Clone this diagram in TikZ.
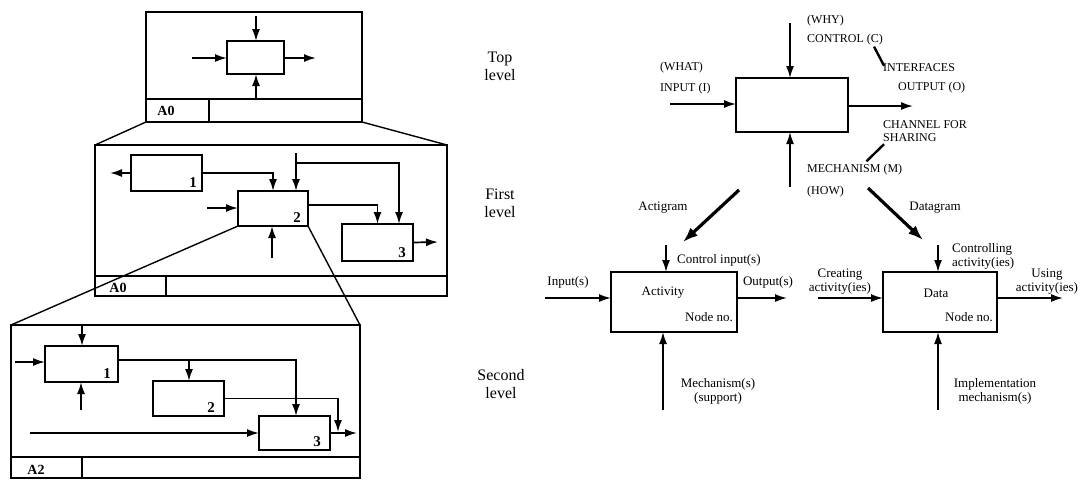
\documentclass[tikz,border=0pt]{standalone}
\usepackage{fontspec}
\setmainfont{Liberation Serif}
\usetikzlibrary{arrows.meta,positioning}

\tikzset{
  blk/.style={draw,line width=2pt,inner sep=0pt,outer sep=0pt,anchor=north west},
  frm/.style={line width=2pt},
  zoomline/.style={line width=1.4pt},
  arr/.style={line width=1.7pt,-{Latex[length=12pt,width=8pt]}},
  fatarr/.style={line width=3.2pt,-{Latex[length=15pt,width=11pt]}},
  lead/.style={line width=2.4pt},
  lbl/.style={font=\fontsize{13}{14}\selectfont,inner sep=0pt,align=center},
  capslbl/.style={font=\fontsize{12}{13}\selectfont,inner sep=0pt,anchor=west},
  lvl/.style={font=\fontsize{16}{18}\selectfont,inner sep=0pt,align=center},
  num/.style={font=\bfseries\fontsize{15}{15}\selectfont,inner sep=0pt,anchor=south east},
  tag/.style={font=\bfseries\fontsize{14}{14}\selectfont,inner sep=0pt},
}

\begin{document}
\begin{tikzpicture}[x=1pt,y=-1pt]
  \useasboundingbox (0,0) rectangle (1081,480);

  % ---- left: top level sheet
  \draw[frm] (146,12) rectangle (362,122);
  \draw[frm] (146,99) -- (362,99) (209,99) -- (209,122);
  \node[tag] (tagtop) at (166,111) {A0};
  \node[blk,minimum width=57pt,minimum height=33pt] (t0) at (227,41) {};
  \coordinate (t0c) at (256,16);
  \coordinate (t0i) at (192,58);
  \coordinate (t0o) at (316,58);
  \coordinate (t0m) at (256,99);
  \draw[arr] (t0c) -- (t0c |- t0.north);
  \draw[arr] (t0i) -- (t0i -| t0.west);
  \draw[arr] (t0o -| t0.east) -- (t0o);
  \draw[arr] (t0m) -- (t0m |- t0.south);

  % ---- left: first level sheet
  \draw[zoomline] (146,122) -- (95,145) (362,122) -- (447,145);
  \draw[frm] (95,145) rectangle (447,296);
  \draw[frm] (95,276) -- (447,276) (166,276) -- (166,296);
  \node[tag] (tagfirst) at (118,288) {A0};
  \node[blk,minimum width=71pt,minimum height=36pt] (f1) at (131,155) {};
  \node[blk,minimum width=70pt,minimum height=35pt] (f2) at (238,191) {};
  \node[blk,minimum width=71pt,minimum height=37pt] (f3) at (342,224) {};
  \node[num] (f1n) at ([xshift=-5pt,yshift=3pt]f1.south east) {1};
  \node[num] (f2n) at ([xshift=-7pt,yshift=3pt]f2.south east) {2};
  \node[num] (f3n) at ([xshift=-7pt,yshift=3pt]f3.south east) {3};
  \coordinate (f1w) at (110,173);
  \coordinate (f2c) at (296,153);
  \coordinate (f2cb) at (296,163);
  \coordinate (f2i) at (207,208);
  \coordinate (f2m) at (272,258);
  \coordinate (f3o) at (438,242);
  \draw[arr] (f1.west) -- (f1w);
  \draw[arr] (f1.east) -| (f2.north);
  \draw[arr] (f2c) -- (f2c |- f2.north);
  \draw[arr] (f2cb) -| ([xshift=21.5pt]f3.north);
  \draw[arr] ([yshift=3.5pt]f2.east) -| (f3.north);
  \draw[arr] (f2i) -- (f2i -| f2.west);
  \draw[arr] (f2m) -- (f2m |- f2.south);
  \draw[arr] (f3.east) -- (f3o);

  % ---- left: second level sheet
  \coordinate (snw) at (11,325);
  \coordinate (sne) at (360,325);
  \draw[zoomline] (f2.south west) -- (snw) (f2.south east) -- (sne);
  \draw[frm] (snw) rectangle (360,478);
  \draw[frm] (11,457) -- (360,457) (82,457) -- (82,478);
  \node[tag] (tagsecond) at (36,470) {A2};
  \node[blk,minimum width=73pt,minimum height=36pt] (s1) at (45,346) {};
  \node[blk,minimum width=71pt,minimum height=35pt] (s2) at (153,381) {};
  \node[blk,minimum width=71pt,minimum height=34pt] (s3) at (259,416) {};
  \node[num] (s1n) at ([xshift=-7pt,yshift=3pt]s1.south east) {1};
  \node[num] (s2n) at ([xshift=-9pt,yshift=3pt]s2.south east) {2};
  \node[num] (s3n) at ([xshift=-9pt,yshift=3pt]s3.south east) {3};
  \coordinate (s1c) at (82,325);
  \coordinate (s1i) at (15,362);
  \coordinate (s1m) at (81,410);
  \coordinate (s1b) at (189,360);
  \coordinate (s2t) at (338,432);
  \coordinate (s3i) at (30,433);
  \coordinate (s3o) at (357,433);
  \draw[arr] (s1c) -- (s1c |- s1.north);
  \draw[arr] (s1i) -- (s1i -| s1.west);
  \draw[arr] (s1m) -- (s1m |- s1.south);
  \draw[arr] ([yshift=4pt]s1.east) -| ([xshift=1.5pt]s3.north);
  \draw[arr] (s1b) -- (s1b |- s2.north);
  \draw[arr] (s2.east) -| (s2t);
  \draw[arr] (s3i) -- (s3i -| s3.west);
  \draw[arr] (s3.east) -- (s3o);

  % ---- level names
  \node[lvl] (lvtop) at (500,66) {Top\\level};
  \node[lvl] (lvfirst) at (500,203) {First\\level};
  \node[lvl] (lvsecond) at (501,384) {Second\\level};

  % ---- right: top level box
  \node[blk,minimum width=112pt,minimum height=54pt] (tb) at (736,78) {};
  \coordinate (tbc) at (790,23);
  \coordinate (tbi) at (670,104);
  \coordinate (tbo) at (913,106);
  \coordinate (tbm) at (790,187);
  \draw[arr] (tbc) -- (tbc |- tb.north);
  \draw[arr] (tbi) -- (tbi -| tb.west);
  \draw[arr] (tbo -| tb.east) -- (tbo);
  \draw[arr] (tbm) -- (tbm |- tb.south);
  \node[capslbl] (why) at (807,21) {(WHY)};
  \node[capslbl] (ctrl) at (807,40) {CONTROL (C)};
  \node[capslbl] (what) at (660,68) {(WHAT)};
  \node[capslbl] (inp) at (660,89) {INPUT (I)};
  \node[capslbl] (intf) at (883,68) {INTERFACES};
  \node[capslbl] (outp) at (898,88) {OUTPUT (O)};
  \node[capslbl] (chan) at (883,125) {CHANNEL FOR};
  \node[capslbl] (shar) at (883,138) {SHARING};
  \node[capslbl] (mech) at (807,170) {MECHANISM (M)};
  \node[capslbl] (how) at (807,192) {(HOW)};
  \draw[lead] ([xshift=-9pt,yshift=-1pt]ctrl.south east) -- ([xshift=1pt,yshift=-2pt]intf.north west);
  \draw[lead] ([xshift=1pt,yshift=-2pt]shar.south west) -- ([xshift=-36pt,yshift=3pt]mech.north east);

  % ---- right: the two views
  \coordinate (ag1) at (739,190);
  \coordinate (ag2) at (683,242);
  \coordinate (dg1) at (868,188);
  \coordinate (dg2) at (923,240);
  \draw[fatarr] (ag1) -- (ag2);
  \draw[fatarr] (dg1) -- (dg2);
  \node[lbl] (actig) at (663,208) {Actigram};
  \node[lbl] (datag) at (935,208) {Datagram};

  % ---- right: activity box
  \node[blk,minimum width=126pt,minimum height=60pt] (ab) at (611,272) {};
  \node[lbl] (abt) at (663,293) {Activity};
  \node[lbl,anchor=east] (abn) at (733,317) {Node no.};
  \coordinate (abc) at (666,245);
  \coordinate (abi) at (545,298);
  \coordinate (abo) at (787,298);
  \coordinate (abm) at (663,410);
  \draw[arr] (abc) -- (abc |- ab.north);
  \draw[arr] (abi) -- (abi -| ab.west);
  \draw[arr] (abo -| ab.east) -- (abo);
  \draw[arr] (abm) -- (abm |- ab.south);
  \node[lbl,anchor=west] (abcl) at (677,260) {Control input(s)};
  \node[lbl] (abil) at (568,282) {Input(s)};
  \node[lbl] (abol) at (768,282) {Output(s)};
  \node[lbl] (abml) at (718,391) {Mechanism(s)\\(support)};

  % ---- right: data box
  \node[blk,minimum width=114pt,minimum height=60pt] (db) at (883,272) {};
  \node[lbl] (dbt) at (936,293) {Data};
  \node[lbl,anchor=east] (dbn) at (993,317) {Node no.};
  \coordinate (dbc) at (938,245);
  \coordinate (dbi) at (818,298);
  \coordinate (dbo) at (1063,298);
  \coordinate (dbm) at (938,410);
  \draw[arr] (dbc) -- (dbc |- db.north);
  \draw[arr] (dbi) -- (dbi -| db.west);
  \draw[arr] (dbo -| db.east) -- (dbo);
  \draw[arr] (dbm) -- (dbm |- db.south);
  \node[lbl,anchor=west,align=left] (dbcl) at (952,256) {Controlling\\activity(ies)};
  \node[lbl] (dbil) at (840,282) {Creating\\activity(ies)};
  \node[lbl] (dbol) at (1047,282) {Using\\activity(ies)};
  \node[lbl] (dbml) at (995,391) {Implementation\\mechanism(s)};
\end{tikzpicture}
\end{document}
